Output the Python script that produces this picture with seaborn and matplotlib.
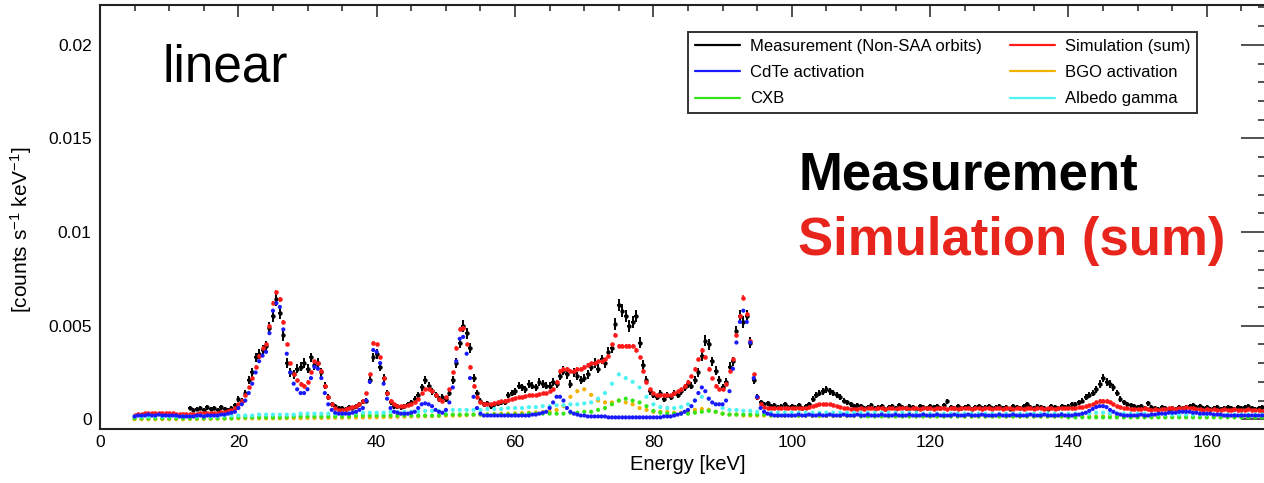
import numpy as np
import pandas as pd
import matplotlib
matplotlib.use('Agg')
import matplotlib.pyplot as plt
import seaborn as sns
from matplotlib.lines import Line2D
from matplotlib.ticker import MultipleLocator

# rates in units of 1e-4 counts/s/keV
# 0.5 keV bins: measurement from 13 keV, simulation (sum) and CdTe from 5 keV
meas = [
    6, 5, 5.5, 6,
    5, 6.5, 5.5, 6, 5, 6.5, 5.5, 5, 6, 7.5,
    11, 10, 14, 21, 25, 33, 35, 37, 39, 49,
    55, 64, 57, 45, 30, 25, 24, 27, 28, 30,
    27, 33, 29, 30, 25, 18, 12, 8, 7, 6,
    6, 5.5, 6.5, 6, 7, 8, 9.5, 10, 21, 33,
    35, 28, 22, 14, 9, 7, 7, 6.5, 7, 8,
    9, 11, 13, 17, 21, 18, 15, 13, 11, 12,
    11, 14, 21, 30, 41, 50, 46, 38, 22, 14,
    10, 8, 8.5, 7, 8, 8.5, 9, 9, 13, 14,
    15, 18, 17, 16, 19, 18, 17, 20, 19, 18,
    18, 20, 19, 23, 26, 24, 19, 25, 23, 21,
    22, 24, 28, 30, 27, 32, 30, 36, 38, 51,
    61, 58, 55, 50, 52, 55, 41, 29, 21, 15,
    13, 12, 14, 11, 13, 12, 14, 13, 15, 17,
    19, 18, 21, 25, 34, 42, 40, 31, 26, 21,
    17, 20, 28, 31, 47, 55, 52, 55, 41, 21,
    12, 9, 8, 8.5, 7, 7.5, 6.5, 7, 8, 6.5,
    7, 6.5, 7.5, 6, 7, 8, 11, 13, 14, 15,
    16, 15, 14, 13, 12, 10, 9, 8, 7, 7.5,
    7, 6, 6.5, 7.5, 6, 6.5, 7, 5.5, 6.5, 7,
    6, 7.5, 6.5, 6, 7, 6.5, 5.5, 7, 6.5, 6,
    7, 6.5, 7, 6, 7.5, 9.5, 6.5, 6, 7, 6,
    6.5, 7, 5.5, 6.5, 7, 6, 6.5, 7, 6, 6.5,
    7, 6, 6.5, 5.5, 7, 6.5, 6, 7, 8, 6.5,
    6, 7, 6.5, 6, 5.5, 7, 6.5, 6, 7, 6.5,
    7, 8, 8, 9, 10, 12, 13, 14, 16, 19,
    22, 20, 19, 17, 14, 11, 9, 8, 7.5, 7,
    6.5, 7, 6, 8.5, 6.5, 6, 5.5, 6.5, 6, 5.5,
    6, 5.5, 6.5, 6, 6.5, 7, 7.5, 6.5, 7, 6,
    6.5, 5.5, 6, 6.5, 5.5, 6, 6.5, 6, 5.5, 6.5,
    6, 6.5, 7, 6, 5.5, 6, 6.5, 5.5, 6, 5.5,
]

sim_sum = [
    2.5, 3, 3, 3.5, 3.5, 3.5, 3.5, 3.5, 3.5, 3.5,
    3.5, 3.5, 3, 3, 3, 3, 3, 3, 3, 3.5,
    3.5, 3.5, 3.5, 3.5, 3.5, 4, 4, 4.5, 5, 6,
    8, 10, 13, 17, 22, 28, 34, 38, 40, 50,
    62, 68, 64, 52, 40, 30, 24, 21, 19, 18,
    20, 25, 31, 30, 26, 18, 12, 8, 6, 5,
    5, 5.5, 6, 6.5, 7, 8, 10, 14, 24, 41,
    40, 33, 22, 14, 10, 8, 7, 7, 7, 7.5,
    8, 9, 11, 14, 16, 16, 15, 13, 11, 10,
    12, 16, 25, 38, 48, 49, 40, 28, 18, 12,
    9, 8, 8, 8, 8.5, 9, 9.5, 10, 10.5, 11,
    11.5, 12, 12, 12.5, 13, 13, 13, 13.5, 14, 14,
    15, 16, 20, 26, 27, 27, 26, 26, 27, 27,
    28, 29, 30, 30, 31, 31, 32, 34, 40, 45,
    39, 39, 39, 39, 39, 37, 33, 26, 20, 16,
    14, 13, 13, 13, 13, 13, 14, 15, 16, 18,
    20, 23, 27, 32, 37, 33, 27, 22, 18, 16,
    16, 19, 26, 32, 45, 55, 65, 56, 42, 24,
    12, 8, 6.5, 6, 6, 6, 6, 6, 6, 6,
    6, 6, 6, 6, 6, 6.5, 7, 7.5, 8, 8,
    8, 8, 7.5, 7, 6.5, 6, 6, 5.5, 5.5, 5.5,
    6, 5.5, 6, 6, 5.5, 6, 6, 5.5, 6, 6,
    5.5, 6, 6, 6, 5.5, 6, 6, 5.5, 6, 6,
    6, 5.5, 6, 6, 6, 5.5, 6, 6, 5.5, 6,
    6, 6, 5.5, 6, 6, 5.5, 6, 6, 5.5, 6,
    6, 5.5, 6, 6, 5.5, 6, 6, 5.5, 6, 6,
    5.5, 6, 6, 5.5, 6, 6, 5.5, 6, 6, 6,
    6, 6, 6, 6.5, 6.5, 7, 7.5, 8, 9, 10,
    10, 10, 9, 8, 7, 6.5, 6, 6, 5.5, 5.5,
    5.5, 5.5, 6, 5.5, 5, 5.5, 5, 5.5, 5.5, 6,
    6, 5.5, 6, 6, 6.5, 6, 6, 5.5, 5.5, 5,
    5.5, 5, 5.5, 5, 5, 5.5, 5, 5, 5.5, 5,
    5, 5, 5.5, 5, 5, 5, 4.5, 5, 5, 4.5,
]

cdte = [
    1.5, 2, 2, 2, 2.5, 2, 2, 2.5, 2, 2,
    2, 2, 2, 1.5, 1.5, 1.5, 1.5, 1.5, 2, 2,
    1.5, 2, 2, 2, 2, 2.5, 2.5, 3, 3.5, 4,
    6, 8, 10, 14, 19, 25, 31, 34, 36, 46,
    58, 62, 60, 48, 35, 25, 19, 16, 14, 14,
    16, 22, 28, 27, 22, 14, 8, 5, 3.5, 3,
    3, 3, 3, 3.5, 4, 5, 6, 10, 20, 37,
    36, 30, 19, 11, 6, 4, 3.5, 3, 3, 3,
    3.5, 4, 6, 8, 8.5, 8, 7, 5, 4, 3.5,
    5, 9, 17, 31, 43, 44, 35, 22, 12, 6,
    3, 2, 2, 2, 2, 2, 2, 2, 2, 2,
    2, 2, 2, 2, 2, 2.5, 2.5, 3, 3.5, 4,
    6, 9, 12, 12, 10, 6, 4, 3, 2.5, 2,
    2, 1.5, 1.5, 1.5, 1.5, 1.5, 1.5, 1, 1, 1,
    1, 1, 1, 1, 1, 1, 1, 1, 1, 1,
    1, 1, 1, 1.5, 1.5, 1.5, 2, 2.5, 3, 4,
    5, 7, 10, 14, 17, 15, 11, 9, 8, 8,
    8, 10, 15, 27, 41, 52, 58, 52, 41, 22,
    12, 6, 4, 3, 2.5, 2, 2, 2, 2, 2,
    2, 2, 2.5, 2, 2, 2.5, 2, 2, 2.5, 2,
    2, 2.5, 2, 2, 2, 2.5, 2, 2, 2, 2.5,
    2, 2, 2.5, 2, 2, 2, 2.5, 2, 2, 2,
    2.5, 2, 2, 2, 2.5, 2, 2, 2, 2.5, 2,
    2, 2, 2.5, 2, 2, 2, 2, 2.5, 2, 2,
    2, 2.5, 2, 2, 2, 2.5, 2, 2, 2, 2,
    2.5, 2, 2, 2, 2.5, 2, 2, 2, 2, 2.5,
    2, 2, 2, 2.5, 2, 2, 2, 2, 2.5, 2,
    2, 2, 2.5, 2.5, 3, 3.5, 4.5, 5.5, 6.5, 7,
    7, 6.5, 5, 4, 3, 2.5, 2, 2, 2, 2,
    2, 2.5, 2, 2, 2.5, 2.5, 3, 3, 3, 3.5,
    3.5, 3.5, 4, 4, 4, 4, 3.5, 3.5, 3, 3,
    3, 3, 2.5, 2.5, 2.5, 2, 2, 2, 2, 2,
    2, 2, 2, 2, 2, 2, 2, 2, 2, 2,
]

# 1 keV bins from 5 keV
albedo = [
    1.5, 1.5, 1.5, 1.5, 1.5, 1.5, 1.5, 1.5, 1.5, 1.5,
    1.5, 1.5, 1.5, 2, 2, 2, 2, 2, 2.5, 2.5,
    2.5, 2.5, 2.5, 2.5, 3, 3, 3, 3, 3, 3,
    3, 3, 3.5, 3.5, 3.5, 3.5, 3.5, 4, 4, 4,
    4, 4, 4.5, 4.5, 4.5, 4.5, 5, 5, 5, 5,
    5, 5.5, 5.5, 5.5, 6, 6, 6, 6.5, 6.5, 7,
    7, 7.5, 7.5, 8, 8, 8.5, 9, 11, 14, 19,
    24, 22, 20, 17, 12, 8, 6.5, 6, 6, 6.5,
    8, 10, 12, 11, 8, 6, 5, 5, 4.5, 4.5,
    4, 4, 3.5, 3.5, 3.5, 3.5, 3.5, 3.5, 3.5, 3.5,
    3.5, 3.5, 3.5, 3.5, 3.5, 3.5, 3.5, 3.5, 3.5, 3.5,
    3.5, 3.5, 3.5, 3.5, 3, 3, 3, 3, 3, 3,
    3, 3, 3, 3, 3, 3, 3, 3, 3, 3,
    3, 3, 3, 3, 3, 3, 3, 3, 3, 3.5,
    3.5, 3, 3, 3, 3, 3, 3, 2.5, 2.5, 2.5,
    2.5, 2.5, 2.5, 2.5, 2.5, 2.5, 2.5, 2.5, 2.5, 2.5,
    2.5, 2.5, 2.5, 2.5, 2.5,
]

cxb = [
    0.5, 0.5, 0.5, 0.5, 0.5, 0.5, 0.5, 0.5, 0.5, 0.5,
    0.5, 0.5, 0.5, 0.5, 0.5, 1, 1, 1, 1, 1,
    1, 1, 1, 1.5, 1.5, 1.5, 1.5, 1.5, 1.5, 1.5,
    1.5, 1.5, 2, 2, 2, 2, 2, 2, 2, 2,
    2, 2, 2, 2, 2, 2.5, 2.5, 2.5, 2.5, 2.5,
    2.5, 2.5, 2.5, 2.5, 2.5, 2.5, 2.5, 3, 3, 3,
    3, 3, 3, 3.5, 3.5, 4, 4, 5, 6, 8,
    10, 11, 10, 9, 7, 4.5, 3.5, 3, 3, 3,
    3, 3.5, 4, 4.5, 4, 3, 2.5, 2.5, 2.5, 2.5,
    2.5, 2.5, 2, 2, 2, 2, 2, 2, 2, 2,
    2, 2, 2, 2, 2, 1.5, 1.5, 1.5, 1.5, 1.5,
    1.5, 1.5, 1.5, 1.5, 1.5, 1.5, 1.5, 1.5, 1.5, 1.5,
    1.5, 1.5, 1.5, 1.5, 1.5, 1.5, 1.5, 1.5, 1.5, 1.5,
    1.5, 1.5, 1.5, 1.5, 1.5, 1, 1, 1, 1, 1,
    1, 1, 1, 1, 1, 1, 1, 1, 1, 1,
    1, 1, 1, 1, 1, 1, 1, 1, 1, 1,
    1, 1, 1, 1, 1,
]

bgo = [
    0, 0, 0, 0, 0, 0, 0, 0, 0.1, 0.1,
    0.2, 0.2, 0.3, 0.3, 0.4, 0.5, 0.5, 0.5, 0.5, 0.5,
    0.5, 0.5, 0.6, 0.6, 0.6, 0.7, 0.7, 0.7, 0.8, 0.8,
    0.8, 0.9, 0.9, 1, 1, 1, 1.2, 1.2, 1.3, 1.4,
    1.5, 1.5, 1.6, 1.7, 1.8, 2, 2, 2, 2.2, 2.4,
    2.5, 2.6, 2.8, 3, 3, 3.2, 3.3, 3.5, 3.6, 3.8,
    4, 5, 7, 12, 15, 16, 13, 10, 9, 9,
    10, 9, 8, 6, 5, 4, 4, 4, 3.5, 3.5,
    4, 5, 5.5, 5, 4, 3, 2.5, 2.5, 2, 2,
    2, 2, 2, 1.8, 1.8, 1.8, 1.8, 1.8, 1.7, 1.7,
    1.7, 1.7, 1.7, 1.7, 1.7, 1.7, 1.7, 1.7, 1.7, 1.7,
    1.6, 1.6, 1.6, 1.6, 1.6, 1.6, 1.6, 1.6, 1.6, 1.6,
    1.5, 1.5, 1.5, 1.5, 1.5, 1.5, 1.5, 1.5, 1.5, 1.5,
    1.5, 1.5, 1.5, 1.5, 1.5, 1.4, 1.4, 1.4, 1.4, 1.4,
    1.6, 1.6, 1.4, 1.4, 1.4, 1.3, 1.3, 1.3, 1.3, 1.3,
    1.3, 1.3, 1.3, 1.3, 1.3, 1.3, 1.3, 1.3, 1.3, 1.3,
    1.2, 1.2, 1.2, 1.2, 1.2,
]

labels = ['Measurement (Non-SAA orbits)', 'Simulation (sum)', 'CdTe activation',
          'BGO activation', 'CXB', 'Albedo gamma']
colors = ['black', '#ff1a1a', '#1a1aff', '#f2b300', '#33e61a', '#4df2f2']

# energy bins (keV)
e_meas = 13 + 0.5 * np.arange(len(meas))
e_fine = 5 + 0.5 * np.arange(len(sim_sum))
e_coarse = 5 + 1.0 * np.arange(len(albedo))

scale = 1e-4
frames = [
    pd.DataFrame({'energy': e_coarse, 'rate': np.array(bgo) * scale, 'comp': labels[3]}),
    pd.DataFrame({'energy': e_coarse, 'rate': np.array(cxb) * scale, 'comp': labels[4]}),
    pd.DataFrame({'energy': e_coarse, 'rate': np.array(albedo) * scale, 'comp': labels[5]}),
    pd.DataFrame({'energy': e_fine, 'rate': np.array(cdte) * scale, 'comp': labels[2]}),
]
comps = pd.concat(frames, ignore_index=True)
df_meas = pd.DataFrame({'energy': e_meas, 'rate': np.array(meas) * scale})
df_sum = pd.DataFrame({'energy': e_fine, 'rate': np.array(sim_sum) * scale})

sns.set_style('white')
plt.rcParams['font.family'] = ['Liberation Sans', 'DejaVu Sans']
plt.rcParams['mathtext.fontset'] = 'custom'
plt.rcParams['mathtext.rm'] = 'Liberation Sans'
plt.rcParams['mathtext.it'] = 'Liberation Sans:italic'
for key in ['text.color', 'axes.labelcolor', 'xtick.color', 'ytick.color']:
    plt.rcParams[key] = 'black'

fig = plt.figure(figsize=(12.64, 4.83), dpi=100)
ax = fig.add_axes([100 / 1264, 1 - 429 / 483, 1176 / 1264, 424 / 483])

palette = dict(zip(labels, colors))

# measurement with poisson-like error bars
err_meas = (0.3 + 0.4 * np.sqrt(df_meas['rate'] / scale)) * scale
ax.errorbar(df_meas['energy'], df_meas['rate'], yerr=err_meas, xerr=0.25,
            fmt='none', ecolor='black', elinewidth=1.4, capsize=0, zorder=2)
sns.scatterplot(data=df_meas, x='energy', y='rate', color='black', s=10,
                linewidth=0, ax=ax, zorder=2)

err_sum = (0.2 + 0.12 * np.sqrt(df_sum['rate'] / scale)) * scale
ax.errorbar(df_sum['energy'], df_sum['rate'], yerr=err_sum, fmt='none',
            ecolor=colors[1], elinewidth=1.2, capsize=0, zorder=3)
sns.scatterplot(data=df_sum, x='energy', y='rate', color=colors[1], s=11,
                linewidth=0, ax=ax, zorder=3)

sns.scatterplot(data=comps, x='energy', y='rate', hue='comp', palette=palette,
                s=9, linewidth=0, ax=ax, legend=False, zorder=4)

ax.set_xlim(0, 170)
ax.set_ylim(-0.00052, 0.02213)
ax.set_xticks([0, 20, 40, 60, 80, 100, 120, 140, 160])
ax.set_xticklabels(['0', '20', '40', '60', '80', '100', '120', '140', '160'])
ax.set_yticks([0, 0.005, 0.01, 0.015, 0.02])
ax.set_yticklabels(['0', '0.005', '0.01', '0.015', '0.02'])
ax.xaxis.set_minor_locator(MultipleLocator(5))
ax.yaxis.set_minor_locator(MultipleLocator(0.001))
ax.tick_params(which='both', direction='in', top=True, right=True,
               labelsize=12.5, width=1.1, color='#222222')
ax.tick_params(axis='x', which='major', length=8.6, pad=4)
ax.tick_params(axis='x', which='minor', length=4.3)
ax.tick_params(axis='y', which='major', length=25, pad=6)
ax.tick_params(axis='y', which='minor', length=13)
for sp in ax.spines.values():
    sp.set_linewidth(1.5)
    sp.set_color('#222222')

ax.set_xlabel('Energy [keV]', fontsize=14.5, labelpad=4)
ax.set_ylabel(r'[counts s$^{-1}$ keV$^{-1}$]', fontsize=15)
ax.yaxis.set_label_coords(-0.056, 0.47)

handles = [Line2D([], [], color=colors[i], lw=1.6) for i in [0, 2, 4, 1, 3, 5]]
leg_labels = [labels[i] for i in [0, 2, 4, 1, 3, 5]]
leg = ax.legend(handles, leg_labels, ncol=2, loc='upper left',
                bbox_to_anchor=(0.5, 0.936), borderaxespad=0, fontsize=12,
                frameon=True, fancybox=False, handlelength=2.7,
                handletextpad=0.6, labelspacing=0.68, borderpad=0.4,
                columnspacing=1.7)
leg.get_frame().set_edgecolor('black')
leg.get_frame().set_linewidth(1.4)

fig.text(163 / 1264, 1 - 81 / 483, 'linear', fontsize=37, va='baseline', ha='left')
fig.text(798 / 1264, 1 - 190 / 483, 'Measurement', fontsize=38, fontweight='bold',
         va='baseline', ha='left', color='black')
fig.text(798 / 1264, 1 - 255 / 483, 'Simulation (sum)', fontsize=38, fontweight='bold',
         va='baseline', ha='left', color='#e8251c')

fig.savefig('out.png', dpi=100)
